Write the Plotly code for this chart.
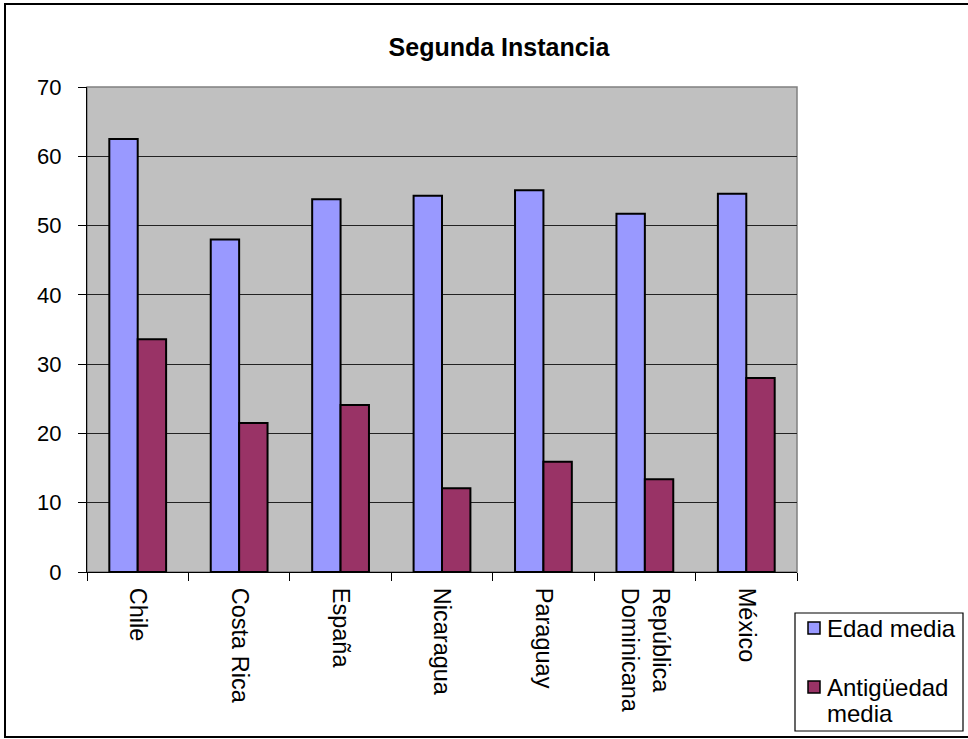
import plotly.graph_objects as go

categories = ["Chile", "Costa Rica", "España", "Nicaragua", "Paraguay",
              "República<br>Dominicana", "México"]
edad_media = [62.5, 48.0, 53.8, 54.3, 55.1, 51.7, 54.6]
antiguedad_media = [33.6, 21.5, 24.1, 12.1, 15.9, 13.4, 28.0]
y_ticks = [0, 10, 20, 30, 40, 50, 60, 70]
series_names = ["Edad media", "Antigüedad media"]
series_colors = ["#9999FF", "#993366"]

FONT = "Liberation Sans, Arial, sans-serif"

fig = go.Figure()
for name, vals, col in zip(series_names, [edad_media, antiguedad_media], series_colors):
    fig.add_trace(go.Bar(
        x=categories, y=vals, name=name,
        marker=dict(color=col, line=dict(color="black", width=2)),
    ))

# plot area: x 87..797, y 87..572 px
L, R, T, B = 87, 797, 87, 572
W, H = 968, 739
pw, ph = R - L, B - T

def px_x(p):
    return (p - L) / pw

def px_y(p):
    return (B - p) / ph

shapes = [
    dict(type="rect", xref="paper", yref="paper", x0=0, x1=1, y0=0, y1=1,
         line=dict(color="#808080", width=1.5), layer="below"),
    # outer chart border
    dict(type="rect", xref="paper", yref="paper",
         x0=px_x(5), x1=px_x(990), y0=px_y(737), y1=px_y(4),
         line=dict(color="black", width=2), layer="above"),
    # legend box
    dict(type="rect", xref="paper", yref="paper",
         x0=px_x(795), x1=px_x(963), y0=px_y(731), y1=px_y(613),
         line=dict(color="black", width=1.2), fillcolor="white", layer="above"),
]
annotations = []
legend_rows = [(628, [series_names[0]]), (687, ["Antigüedad", "media"])]
for (yc, lines), col in zip(legend_rows, series_colors):
    shapes.append(dict(type="rect", xref="paper", yref="paper",
                       x0=px_x(808), x1=px_x(820), y0=px_y(yc + 6), y1=px_y(yc - 6),
                       line=dict(color="black", width=1.5), fillcolor=col, layer="above"))
    for i, t in enumerate(lines):
        annotations.append(dict(text=t, xref="paper", yref="paper",
                                x=px_x(825), y=px_y(yc + 26 * i), xanchor="left", yanchor="middle",
                                showarrow=False, font=dict(size=24, family=FONT, color="black")))

fig.update_layout(
    width=W, height=H,
    margin=dict(l=L, r=W - R, t=T, b=H - B, pad=0, autoexpand=False),
    paper_bgcolor="white",
    plot_bgcolor="#C0C0C0",
    font=dict(family=FONT, size=22, color="black"),
    barmode="group", bargap=0.44, bargroupgap=0,
    title=dict(text="<b>Segunda Instancia</b>", font=dict(size=25, family=FONT, color="black"),
               x=499 / W, xanchor="center", xref="container",
               y=1 - 47 / H, yanchor="middle", yref="container"),
    showlegend=False,
    xaxis=dict(
        type="category", tickangle=90, ticks="outside", tickson="boundaries",
        ticklen=8, tickcolor="black", tickwidth=1, automargin=False,
        showline=True, linecolor="black", linewidth=1.2,
        showgrid=False, ticklabelstandoff=10,
        tickfont=dict(size=23.5, family=FONT, color="black"),
    ),
    yaxis=dict(
        range=[0, 70], tickvals=y_ticks, ticks="outside", ticklen=8,
        tickcolor="black", tickwidth=1, automargin=False,
        showline=True, linecolor="black", linewidth=1.2,
        showgrid=True, gridcolor="#222222", gridwidth=1,
        zeroline=False, ticklabelstandoff=12,
        tickfont=dict(size=22, family=FONT, color="black"),
    ),
    shapes=shapes,
    annotations=annotations,
)

fig.write_html("out.html", config={"displayModeBar": False},
               post_script="document.body.style.margin='0px';")
